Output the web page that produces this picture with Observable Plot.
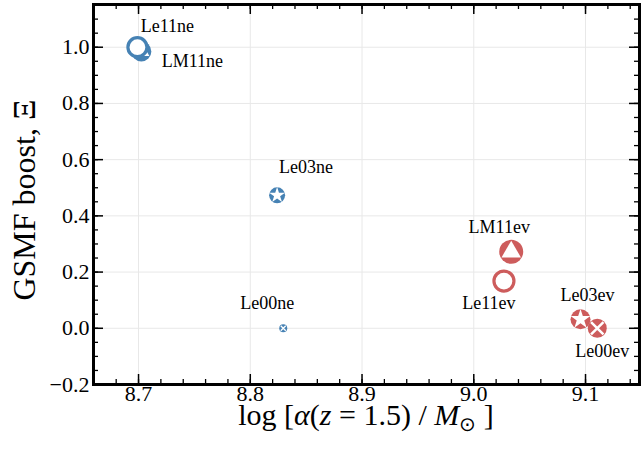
<!DOCTYPE html>
<html><head><meta charset="utf-8">
<script src="https://cdn.jsdelivr.net/npm/d3@7"></script>
<script src="https://cdn.jsdelivr.net/npm/@observablehq/plot@0.6"></script>
<style>body{margin:0;background:#fff}</style>
</head><body><div id="chart"></div>
<script>
// ---- data ----
const names   = ["Le00ne","Le03ne","LM11ne","Le11ne","Le03ev","Le00ev","Le11ev","LM11ev"];
const xVals   = [8.8295, 8.824, 8.7025, 8.699, 9.0955, 9.1105, 9.027, 9.0335];
const yVals   = [0.0, 0.473, 0.985, 1.0, 0.032, 0.0, 0.168, 0.272];
const groups  = ["ne","ne","ne","ne","ev","ev","ev","ev"];
const markers = ["times","star","triangle","ring","star","times","ring","triangle"];
const xTicks  = [8.7, 8.8, 8.9, 9.0, 9.1];
const yTicks  = [-0.2, 0.0, 0.2, 0.4, 0.6, 0.8, 1.0];

// ---- style ----
const colorOf = {ne: "#4682b4", ev: "#cd5c5c"};
const radius = {Le00ne: 4, Le03ne: 8, LM11ne: 10, Le11ne: 9.5, Le03ev: 10, Le00ev: 9.5, Le11ev: 10, LM11ev: 12};
const labelOff = {Le11ne:[30,-21], LM11ne:[51,10], Le03ne:[29,-28], Le00ne:[-16,-25],
                  LM11ev:[-12,-25], Le11ev:[-15,22], Le03ev:[7,-24], Le00ev:[5,23]};
const W = 641, H = 449, mL = 93, mR = 2, mT = 4, mB = 65;
const pw = W - mL - mR, ph = H - mT - mB;
const FONT = "Liberation Serif";

const pts = names.map((n, i) => ({name: n, x: xVals[i], y: yVals[i], color: colorOf[groups[i]], marker: markers[i], r: radius[n]}));
const filled = pts.filter(d => d.marker !== "ring");
const rings = pts.filter(d => d.marker === "ring");

const minorX = d3.range(433, 458).map(i => i / 50);
const minorY = d3.range(-4, 24).map(i => i / 20);

const inner = [];
for (const p of filled) {
  inner.push(Plot.dot([p], {x: "x", y: "y", r: "r", fill: "color", stroke: "none"}));
  if (p.marker === "star") inner.push(Plot.dot([p], {x: "x", y: "y", r: p.r * 0.62, symbol: "star", fill: "white"}));
  if (p.marker === "triangle") inner.push(Plot.dot([p], {x: "x", y: "y", r: p.r * 0.6, symbol: "triangle", fill: "white"}));
  if (p.marker === "times") inner.push(Plot.dot([p], {x: "x", y: "y", r: p.r * 0.6, symbol: "times", stroke: "white", strokeWidth: p.r > 5 ? 2.5 : 1.3}));
}

const chart = Plot.plot({
  width: W, height: H,
  marginLeft: mL, marginRight: mR, marginTop: mT, marginBottom: mB,
  style: {fontFamily: FONT, background: "white", color: "black"},
  x: {domain: [8.6597, 9.1483]},
  y: {domain: [-0.2, 1.152]},
  r: {type: "identity"},
  color: {type: "identity"},
  marks: [
    Plot.gridX(xTicks, {stroke: "#e8e8e8", strokeOpacity: 1, strokeWidth: 1}),
    Plot.gridY(yTicks, {stroke: "#e8e8e8", strokeOpacity: 1, strokeWidth: 1}),
    Plot.tickX(minorX, {x: d => d, insetTop: ph - 5, stroke: "black", strokeWidth: 1.3}),
    Plot.tickX(minorX, {x: d => d, insetBottom: ph - 5, stroke: "black", strokeWidth: 1.3}),
    Plot.tickX(xTicks, {x: d => d, insetTop: ph - 10, stroke: "black", strokeWidth: 1.5}),
    Plot.tickX(xTicks, {x: d => d, insetBottom: ph - 10, stroke: "black", strokeWidth: 1.5}),
    Plot.tickY(minorY, {y: d => d, insetRight: pw - 5, stroke: "black", strokeWidth: 1.3}),
    Plot.tickY(minorY, {y: d => d, insetLeft: pw - 5, stroke: "black", strokeWidth: 1.3}),
    Plot.tickY(yTicks, {y: d => d, insetRight: pw - 10, stroke: "black", strokeWidth: 1.5}),
    Plot.tickY(yTicks, {y: d => d, insetLeft: pw - 10, stroke: "black", strokeWidth: 1.5}),
    Plot.axisX(xTicks, {tickSize: 0, tickPadding: 1, tickFormat: d3.format(".1f"), fontSize: 22, label: null}),
    Plot.axisY(yTicks, {tickSize: 0, tickPadding: 4, tickFormat: d3.format(".1f"), fontSize: 22, label: null}),
    ...inner,
    Plot.dot(rings, {x: "x", y: "y", r: "r", stroke: "color", fill: "white", strokeWidth: 3.2}),
    ...pts.map(p => Plot.text([p], {x: "x", y: "y", text: "name", dx: labelOff[p.name][0], dy: labelOff[p.name][1], fontSize: 18, fill: "black"})),
    Plot.frame({stroke: "black", strokeWidth: 3})
  ]
});

const svg = d3.select(chart);
// x axis label
const xl = svg.append("text").attr("x", mL + pw / 2).attr("y", 425)
  .attr("text-anchor", "middle").attr("font-size", 30).attr("fill", "black");
xl.append("tspan").text("log [");
xl.append("tspan").attr("font-style", "italic").text("α");
xl.append("tspan").text("(");
xl.append("tspan").attr("font-style", "italic").text("z");
xl.append("tspan").text(" = 1.5) / ");
xl.append("tspan").attr("font-style", "italic").text("M");
xl.append("tspan").attr("font-size", 20).attr("dy", 6).text("⊙");
xl.append("tspan").attr("dy", -6).text(" ]");
// y axis label
svg.append("text").attr("transform", `translate(35,${mT + ph / 2 + 6}) rotate(-90)`)
  .attr("text-anchor", "middle").attr("font-size", 32).attr("fill", "black")
  .text("GSMF boost, Ξ");
svg.selectAll("text").style("font-family", "'Liberation Serif'");

document.getElementById("chart").appendChild(chart);
</script>
</body></html>
